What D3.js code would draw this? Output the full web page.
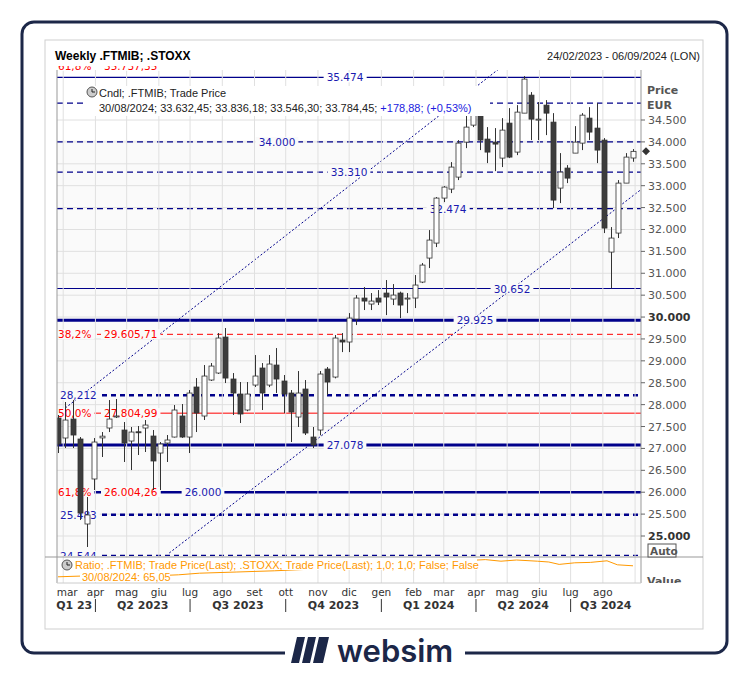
<!DOCTYPE html>
<html><head><meta charset="utf-8">
<script src="https://cdn.jsdelivr.net/npm/d3@7/dist/d3.min.js"></script>
<style>body{margin:0;background:#fff}svg{display:block}</style>
</head><body><svg id="c" width="750" height="675"></svg>
<script>
const startDate = "2023-02-24";
const opens  = [27694,27238,27671,27215,25274,26302,27240,27466,27720,27420,27169,27380,27466,27283,26895,27123,27260,27740,27260,28402,27740,28562,28722,29543,28585,28242,27877,28447,28836,28447,28904,28539,28265,27717,28356,27260,27420,28813,28630,29475,29430,29954,30434,30297,30434,30548,30411,30548,30411,30434,30799,31347,31689,32717,32922,33196,33995,34383,34611,34064,33995,33630,34429,33767,34657,35068,34520,34840,34452,32945,33402,33744,33972,34543,34315,34041,31484,31918,33059,33632];
const highs  = [27763,28060,28105,27260,25890,27237,27374,28105,28128,27603,27489,27511,27648,27420,27146,27306,27991,28014,28333,28607,28904,28950,29635,29749,28721,28516,28516,29132,28950,29132,29292,28676,28333,28767,28562,27489,28767,28859,29589,29635,30091,30502,30685,30548,30616,30845,30753,30580,30548,30959,31233,31986,32740,32990,33539,34041,34611,34611,34611,34338,34315,34543,34771,34840,35502,35137,34908,34954,34657,33744,33470,34360,34657,34794,34886,34087,32055,33128,33744,33836];
const lows   = [26895,27009,27009,25365,24749,26050,26804,27374,27694,26690,26507,26850,26918,26050,26050,26690,27250,27240,26895,27374,27649,28540,28700,28493,27763,27580,27850,28402,27877,28400,28265,27808,27146,27489,27306,27009,27300,28219,28600,29200,29200,29817,30160,30160,30274,30045,30274,29977,30091,30205,30776,31119,31598,32625,32831,33128,33858,34338,33813,33516,33333,33425,33630,33698,34657,34041,34041,34155,32488,32603,33059,33744,33813,34041,33516,31918,30652,31804,33059,33546];
const closes = [27100,27648,27306,25525,25480,27146,27280,27671,27740,27123,27374,27360,27534,26713,27100,27192,27877,27260,28265,27808,28653,28881,29521,28607,28265,27786,28242,28653,28265,28927,28585,28242,27831,28265,27352,27078,28699,28516,29521,29430,29977,30434,30365,30365,30342,30457,30502,30274,30434,30731,31187,31758,32717,32968,33425,33972,34338,34611,34041,33767,33950,34269,33653,34680,35434,34520,34520,34657,32671,33310,33173,33995,34611,34224,33813,32032,31804,33059,33653,33784];

const levelValues = [35474,34887,34000,33310,32474,30652,29925,28212,27078,26000,25483,24544];
const levelLabels = ["35.474","34.887","34.000","33.310","32.474","30.652","29.925","28,212","27.078","26.000","25.483","24.544"];
const fibValues = [35737.35,29605.71,27804.99,26004.26];
const fibPct = ["61,8%","38,2%","50,0%","61,8%"];
const fibLabels = ["35.737,35","29.605,71","27.804,99","26.004,26"];
const channelLower = [["2023-06-11",24612],["2024-09-06",32899]];
const channelUpper = [["2023-03-03",27922],["2024-04-24",35685]];
const ratioDates = ["2023-02-24","2023-04-01","2023-05-15","2023-06-20","2023-07-10","2023-08-15","2023-09-20","2023-10-25","2023-12-01","2024-01-10","2024-02-15","2024-03-20","2024-04-10","2024-04-25","2024-05-10","2024-05-30","2024-06-10","2024-06-20","2024-07-05","2024-07-20","2024-08-05","2024-08-15","2024-08-30"];
const ratioValues = [62.3,62.6,62.4,62.8,63.2,63.5,63.8,64.2,64.6,65.2,65.8,66.3,66.6,66.2,66.5,66.2,66.0,65.4,65.8,65.9,66.3,65.3,65.05];
const yTicks = [25000,25500,26000,26500,27000,27500,28000,28500,29000,29500,30000,30500,31000,31500,32000,32500,33000,33500,34000,34500];
const monthNames = ["gen","feb","mar","apr","mag","giu","lug","ago","set","ott","nov","dic"];

const svg = d3.select("#c");
const P = d3.timeParse("%Y-%m-%d");
const d0 = P(startDate);
const dates = opens.map((_,i)=>d3.timeWeek.offset(d0,i));
const x = d3.scaleTime().domain([d0, dates[dates.length-1]]).range([58,633]);
const y = d3.scaleLinear().domain([25000,34500]).range([536,120]);
const L=57,R=641,T=70,B=556;
const NAVY="#00008b", RED="#ff0000", LBL="#1a1ab0";
const fmt = d3.formatLocale({decimal:",",thousands:".",grouping:[3],currency:["",""]}).format(",.0f");

svg.append("rect").attr("x",22).attr("y",22).attr("width",705).attr("height",631).attr("rx",12).attr("fill","#fff").attr("stroke","#1c2748").attr("stroke-width",3);
svg.append("rect").attr("x",45).attr("y",40).attr("width",658).attr("height",589).attr("fill","#fff").attr("stroke","#cfcfcf");
svg.append("text").attr("x",55).attr("y",60).attr("font-family","Liberation Sans, Arial").attr("font-weight","bold").attr("font-size",12).text("Weekly .FTMIB; .STOXX");
svg.append("text").attr("x",700).attr("y",60).attr("text-anchor","end").attr("font-family","Liberation Sans, Arial").attr("font-size",11).attr("fill","#222").text("24/02/2023 - 06/09/2024 (LON)");

svg.append("defs").append("clipPath").attr("id","clip").append("rect").attr("x",L).attr("y",T-4).attr("width",R-L).attr("height",B-T+4);
svg.append("defs").append("clipPath").attr("id","clip2").append("rect").attr("x",L).attr("y",T).attr("width",R-L).attr("height",B-T);
svg.append("rect").attr("x",L).attr("y",T).attr("width",R-L).attr("height",B-T).attr("fill","#fafafa");
svg.append("rect").attr("x",L).attr("y",T).attr("width",R-L).attr("height",70).attr("fill","#fff");

const g = svg.append("g").attr("clip-path","url(#clip2)");
yTicks.forEach(v=>g.append("line").attr("x1",L).attr("x2",R).attr("y1",y(v)).attr("y2",y(v)).attr("stroke","#e0e0e0"));
const months = d3.timeMonth.range(d3.timeMonth.ceil(d0), P("2024-09-10"));
months.forEach(m=>svg.append("line").attr("x1",x(m)).attr("x2",x(m)).attr("y1",T).attr("y2",583).attr("stroke","#e0e0e0"));

[channelLower,channelUpper].forEach(c=>{
  g.append("line").attr("x1",x(P(c[0][0]))).attr("y1",y(c[0][1])).attr("x2",x(P(c[1][0]))).attr("y2",y(c[1][1]))
   .attr("stroke",NAVY).attr("stroke-width",1).attr("stroke-dasharray","2,2");
});

const lvStyle = [
 {w:1.2,d:null,lx:345,a:"middle"},{w:1.3,d:"6,4",lx:315,a:"middle"},{w:1.3,d:"6,4",lx:277,a:"middle"},{w:1.3,d:"6,4",lx:349,a:"middle"},
 {w:1.3,d:"6,4",lx:448,a:"middle"},{w:1,d:null,lx:512,a:"middle"},{w:3,d:null,lx:475,a:"middle"},{w:2.5,d:"5,4",lx:60,a:"start"},
 {w:3,d:null,lx:345,a:"middle"},{w:2.5,d:null,lx:203,a:"middle"},{w:2.5,d:"5,4",lx:60,a:"start"},{w:2.5,d:"5,4",lx:60,a:"start"}];
fibValues.forEach((v,i)=>{
  g.append("line").attr("x1",L).attr("x2",R).attr("y1",y(v)).attr("y2",y(v)).attr("stroke",RED).attr("stroke-width",1).attr("stroke-dasharray",i==1?"6,4":null);
});
levelValues.forEach((v,i)=>{
  const s=lvStyle[i];
  g.append("line").attr("x1",L).attr("x2",R).attr("y1",y(v)).attr("y2",y(v)).attr("stroke",NAVY).attr("stroke-width",s.w).attr("stroke-dasharray",s.d);
});
function label(parent,text,xx,yy,color,anchor,bg){
  const t=parent.append("text").attr("x",xx).attr("y",yy+4).attr("text-anchor",anchor).attr("font-family","DejaVu Sans, Verdana").attr("font-size",10.5).attr("fill",color).text(text);
  const b=t.node().getBBox();
  parent.insert("rect",()=>t.node()).attr("x",b.x-3).attr("y",b.y+1).attr("width",b.width+6).attr("height",b.height-2).attr("fill",bg);
}
const lg = svg.append("g").attr("clip-path","url(#clip)");
levelValues.forEach((v,i)=>{const s=lvStyle[i]; label(lg,levelLabels[i],s.lx,y(v),LBL,s.a,y(v)<140?"#fff":"#fafafa");});
fibValues.forEach((v,i)=>{
  label(lg,fibPct[i],58,y(v),RED,"start",y(v)<140?"#fff":"#fafafa");
  label(lg,fibLabels[i],104,y(v),RED,"start",y(v)<140?"#fff":"#fafafa");
});

const cw=5;
const cg = svg.append("g").attr("clip-path","url(#clip2)");
dates.forEach((d,i)=>{
  const cx=Math.round(x(d))+0.5, up=closes[i]>=opens[i];
  cg.append("line").attr("x1",cx).attr("x2",cx).attr("y1",y(highs[i])).attr("y2",y(lows[i])).attr("stroke","#333");
  const top=y(Math.max(opens[i],closes[i])), bot=y(Math.min(opens[i],closes[i]));
  cg.append("rect").attr("x",cx-cw/2).attr("y",top).attr("width",cw).attr("height",Math.max(1,bot-top))
    .attr("fill",up?"#fff":"#3c3c3c").attr("stroke","#333").attr("stroke-width",0.8);
});

const info = svg.append("g");
info.append("rect").attr("x",85).attr("y",86).attr("width",405).attr("height",30).attr("fill","#fff");
info.append("circle").attr("cx",92).attr("cy",92).attr("r",5).attr("fill","#ccc").attr("stroke","#555");
info.append("path").attr("d","M92,89 V92 H95").attr("stroke","#222").attr("fill","none");
const it=info.append("text").attr("font-family","Liberation Sans, Arial").attr("font-size",11).attr("fill","#222");
it.append("tspan").attr("x",99).attr("y",97).text("Cndl; .FTMIB; Trade Price");
const l2=it.append("tspan").attr("x",99).attr("y",112);
l2.append("tspan").text("30/08/2024; 33.632,45; 33.836,18; 33.546,30; 33.784,45; ");
l2.append("tspan").attr("fill","#1a1ae0").text("+178,88; (+0,53%)");

svg.append("line").attr("x1",L).attr("x2",L).attr("y1",T).attr("y2",583).attr("stroke","#999");
svg.append("line").attr("x1",R).attr("x2",R).attr("y1",T).attr("y2",583).attr("stroke","#999");
svg.append("line").attr("x1",45).attr("x2",703).attr("y1",B+1).attr("y2",B+1).attr("stroke","#999");
svg.append("line").attr("x1",L).attr("x2",R).attr("y1",583).attr("y2",583).attr("stroke","#ccc");
yTicks.forEach(v=>{
  svg.append("line").attr("x1",R).attr("x2",R+4).attr("y1",y(v)).attr("y2",y(v)).attr("stroke","#666");
  svg.append("text").attr("x",648).attr("y",y(v)+4).attr("font-family","DejaVu Sans, Verdana").attr("font-size",11)
   .attr("font-weight",(v==30000||v==25000)?"bold":null).attr("fill",(v==30000||v==25000)?"#333":"#555").text(fmt(v));
});
svg.append("text").attr("x",647).attr("y",94).attr("font-family","DejaVu Sans, Verdana").attr("font-size",11).attr("font-weight","bold").attr("fill","#555").text("Price");
svg.append("text").attr("x",647).attr("y",109).attr("font-family","DejaVu Sans, Verdana").attr("font-size",11).attr("font-weight","bold").attr("fill","#555").text("EUR");
svg.append("path").attr("d",`M${R+1},${y(closes[closes.length-1])} l4,-4 l4,4 l-4,4 z`).attr("fill","#333");
svg.append("rect").attr("x",648).attr("y",544).attr("width",28).attr("height",13).attr("fill","#fff").attr("stroke","#555");
svg.append("text").attr("x",650).attr("y",555).attr("font-family","DejaVu Sans, Verdana").attr("font-size",10.5).attr("font-weight","bold").attr("fill","#555").text("Auto");
svg.append("text").attr("x",647).attr("y",585).attr("font-family","DejaVu Sans, Verdana").attr("font-size",11).attr("font-weight","bold").attr("fill","#555").text("Value");
svg.append("rect").attr("x",642).attr("y",583).attr("width",60).attr("height",12).attr("fill","#fff");

const ry = d3.scaleLinear().domain([61,67]).range([582,558]);
svg.append("path").datum(ratioDates.map((d,i)=>[x(P(d)),ry(ratioValues[i])]))
  .attr("d",d3.line().curve(d3.curveLinear)).attr("fill","none").attr("stroke","#ff9900").attr("stroke-width",1);
const rt=svg.append("g");
rt.append("rect").attr("x",72).attr("y",558).attr("width",405).attr("height",12).attr("fill","#fff");
rt.append("rect").attr("x",80).attr("y",571).attr("width",90).attr("height",11).attr("fill","#fff");
rt.append("circle").attr("cx",67).attr("cy",565).attr("r",5).attr("fill","#ccc").attr("stroke","#555");
rt.append("path").attr("d","M67,562 V565 H70").attr("stroke","#222").attr("fill","none");
rt.append("text").attr("x",75).attr("y",569).attr("font-family","Liberation Sans, Arial").attr("font-size",11).attr("fill","#ff9900").text("Ratio; .FTMIB; Trade Price(Last); .STOXX; Trade Price(Last);  1,0; 1,0; False; False");
rt.append("text").attr("x",82).attr("y",581).attr("font-family","Liberation Sans, Arial").attr("font-size",11).attr("fill","#ff9900").text("30/08/2024: 65,05");

months.filter(m=>m<=P("2024-08-31")).forEach(m=>{
  svg.append("text").attr("x",x(m)+(m.getMonth()==2&&m.getFullYear()==2023?4:0)).attr("y",596).attr("text-anchor","middle").attr("font-family","DejaVu Sans, Verdana").attr("font-size",10.5).attr("fill","#333").text(monthNames[m.getMonth()]);
});
const quarters=[["2023-02-20","2023-04-01","Q1 23"],["2023-04-01","2023-07-01","Q2 2023"],["2023-07-01","2023-10-01","Q3 2023"],["2023-10-01","2024-01-01","Q4 2023"],["2024-01-01","2024-04-01","Q1 2024"],["2024-04-01","2024-07-01","Q2 2024"],["2024-07-01","2024-09-09","Q3 2024"]];
quarters.forEach((q,i)=>{
  const a=Math.max(L,x(P(q[0]))), b=Math.min(R,x(P(q[1])));
  svg.append("text").attr("x",(a+b)/2+(i==0?-2:0)).attr("y",609).attr("text-anchor","middle").attr("font-family","DejaVu Sans, Verdana").attr("font-size",11).attr("font-weight","bold").attr("fill","#333").text(q[2]);
  if(i>0) svg.append("line").attr("x1",a).attr("x2",a).attr("y1",599).attr("y2",612).attr("stroke","#333");
});

svg.append("rect").attr("x",285).attr("y",640).attr("width",180).attr("height",25).attr("fill","#fff");
svg.append("path").attr("d","M297,637 l8,0 l-6,26 l-8,0 z M308,637 l8,0 l-6,26 l-8,0 z").attr("fill","#1c2748");
svg.append("path").attr("d","M319,637 l10,0 l-6,26 l-10,0 z").attr("fill","#1c2748");
svg.append("text").attr("x",337).attr("y",662).attr("font-family","Inter, Roboto, sans-serif").attr("font-size",31).attr("font-weight",600).attr("fill","#1c2748").text("websim");
</script></body></html>
